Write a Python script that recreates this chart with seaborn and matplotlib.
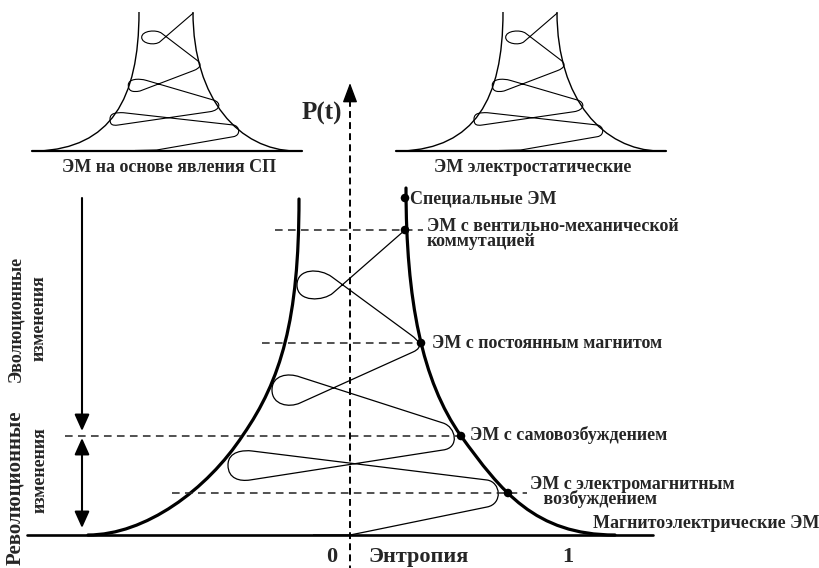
import matplotlib
matplotlib.use("Agg")
import matplotlib.pyplot as plt
from matplotlib.path import Path
from matplotlib.patches import PathPatch, FancyArrowPatch
import seaborn as sns

# all coordinates are pixels of the 820x568 picture, y grows downwards

# main funnel edges (cubic bezier: start, ctrl, ctrl, end, ctrl, ctrl, end)
left_edge = [(299, 199), (299, 320), (281, 380), (243, 435), (207, 490), (145, 535), (88, 535)]
right_edge = [(406, 188), (406, 300), (422, 381), (461, 436), (501, 491), (535, 535), (615, 535)]

# zig-zag evolution track inside the main funnel
main_track = [
    ("M", (405, 230)),
    ("L", (333, 293)),
    ("C", (324, 301), (297, 303), (297, 285)),
    ("C", (297, 268), (320, 268), (332, 277)),
    ("L", (411, 335)),
    ("C", (419, 341), (424, 347), (413, 352)),
    ("L", (300, 403)),
    ("C", (289, 408), (272, 405), (272, 390)),
    ("C", (272, 375), (288, 372.5), (300, 377)),
    ("L", (443, 423)),
    ("C", (456, 427), (460, 448), (443, 450)),
    ("L", (250, 480)),
    ("C", (240, 481.5), (228, 479), (228, 465)),
    ("C", (228, 451), (244, 450), (252, 451)),
    ("L", (487, 480)),
    ("C", (501, 482), (503, 504), (487, 507)),
    ("L", (365, 532)),
    ("L", (350, 535)),
    ("L", (313, 535)),
]

# small funnels at the top (left copy, the right one is shifted)
mini_left_edge = [(139, 12), (139, 100), (110, 148), (38, 151)]
mini_right_edge = [(193, 12), (193, 100), (240, 150), (295, 151)]
mini_track = [
    ("M", (193.3, 13)),
    ("L", (160, 41.7)),
    ("C", (155.4, 45.7), (141.7, 44), (141.7, 37.3)),
    ("C", (141.7, 30.5), (156.5, 29.3), (161.7, 33.3)),
    ("L", (196.7, 60)),
    ("C", (202, 64), (201.1, 67.7), (193.3, 70.7)),
    ("L", (140, 91)),
    ("C", (132.2, 92.5), (128.3, 91), (128.3, 85)),
    ("C", (128.3, 79), (138.2, 78), (146.7, 80.5)),
    ("L", (213.3, 100)),
    ("C", (221.8, 102.5), (220.4, 110.2), (210, 111.7)),
    ("L", (118.3, 125)),
    ("C", (111.5, 126), (110, 124), (110, 119)),
    ("C", (110, 113), (116, 112.5), (123.3, 112.7)),
    ("L", (233.3, 125)),
    ("C", (240, 126), (241, 135.5), (233.3, 136.7)),
    ("L", (156.7, 150)),
    ("L", (135, 150.5)),
]
mini_base = [(32, 151), (302, 151)]
mini_shift = [0, 364]
mini_titles = ["ЭМ на основе явления СП", "ЭМ электростатические"]
mini_title_x = [169, 533]
mini_title_y = 167

# levels (dashed lines + dots on the right edge)
level_y = [230, 343, 436, 493]
level_x0 = [275, 262, 65, 172]
level_x1 = [423, 421, 461, 527]
dot_x = [405, 405, 421, 461, 508]
dot_y = [198, 230, 343, 436, 493]

labels = ["Специальные ЭМ", "ЭМ с вентильно-механической\nкоммутацией",
          "ЭМ с постоянным магнитом", "ЭМ с самовозбуждением",
          "ЭМ с электромагнитным\n   возбуждением", "Магнитоэлектрические ЭМ"]
label_x = [410, 427, 432, 470, 530, 593]
label_y = [199, 234, 344, 435, 492, 523]

base_line = [(27, 535), (653, 535)]

sns.set_theme(style="white")
plt.rcParams["font.family"] = ["Liberation Serif", "DejaVu Serif"]

fig = plt.figure(figsize=(8.2, 5.68), dpi=100)
ax = fig.add_axes([0, 0, 1, 1])


def bezier(points, dx=0):
    pts = [(x + dx, y) for x, y in points]
    return Path(pts, [Path.MOVETO] + [Path.CURVE4] * (len(pts) - 1))


def track_path(track, dx=0):
    verts, codes = [], []
    kinds = {"M": Path.MOVETO, "L": Path.LINETO, "C": Path.CURVE4}
    for kind, *pts in track:
        for x, y in pts:
            verts.append((x + dx, y))
            codes.append(kinds[kind])
    return Path(verts, codes)


# main funnel
for edge in (left_edge, right_edge):
    ax.add_patch(PathPatch(bezier(edge), fill=False, lw=2.3, color="black", capstyle="round"))
ax.add_patch(PathPatch(track_path(main_track), fill=False, lw=0.9, color="black"))
sns.lineplot(x=[p[0] for p in base_line], y=[p[1] for p in base_line], color="black",
             lw=1.9, sort=False, estimator=None, ax=ax)

# small funnels
for dx, title, tx in zip(mini_shift, mini_titles, mini_title_x):
    ax.add_patch(PathPatch(bezier(mini_left_edge, dx), fill=False, lw=1.0, color="black"))
    ax.add_patch(PathPatch(bezier(mini_right_edge, dx), fill=False, lw=1.0, color="black"))
    ax.add_patch(PathPatch(track_path(mini_track, dx), fill=False, lw=0.8, color="black"))
    sns.lineplot(x=[p[0] + dx for p in mini_base], y=[p[1] for p in mini_base], color="black",
                 lw=1.6, sort=False, estimator=None, ax=ax)
    ax.text(tx, mini_title_y, title, ha="center", va="center", fontsize=13, fontweight="bold")

# dashed levels
for y, x0, x1 in zip(level_y, level_x0, level_x1):
    sns.lineplot(x=[x0, x1], y=[y, y], color="#222222", lw=1.1, linestyle=(0, (5, 3.5)),
                 sort=False, estimator=None, ax=ax)
sns.scatterplot(x=dot_x, y=dot_y, color="black", s=38, edgecolor="none", ax=ax, zorder=5)

for txt, x, y in zip(labels, label_x, label_y):
    ax.text(x, y, txt, ha="left", va="center", fontsize=13, fontweight="bold",
            linespacing=0.8, multialignment="left")

# vertical P(t) axis
ax.plot([350, 350], [100, 568], color="black", lw=1.4, linestyle=(0, (3.5, 2.2)))
ax.add_patch(FancyArrowPatch((350, 101), (350, 83), arrowstyle="-|>,head_length=12,head_width=4.5",
                             mutation_scale=1, color="black", lw=1.0, shrinkA=0, shrinkB=0))
ax.text(322, 113, "P(t)", ha="center", va="center", fontsize=18, fontweight="bold")
ax.text(332, 557, "0", ha="center", va="center", fontsize=16, fontweight="bold")
ax.text(419, 557, "Энтропия", ha="center", va="center", fontsize=16, fontweight="bold")
ax.text(568, 557, "1", ha="center", va="center", fontsize=16, fontweight="bold")

# evolution / revolution arrows
ax.add_patch(FancyArrowPatch((82, 198), (82, 431), arrowstyle="-|>,head_length=10,head_width=4.5",
                             mutation_scale=1, color="black", lw=1.5, shrinkA=0, shrinkB=0))
ax.add_patch(FancyArrowPatch((82, 438), (82, 528), arrowstyle="<|-|>,head_length=10,head_width=4.5",
                             mutation_scale=1, color="black", lw=1.5, shrinkA=0, shrinkB=0))
ax.text(16, 319, "Эволюционные", rotation=90, ha="center", va="center", fontsize=13, fontweight="bold")
ax.text(39, 318, "изменения", rotation=90, ha="center", va="center", fontsize=13, fontweight="bold")
ax.text(15, 488, "Революционные", rotation=90, ha="center", va="center", fontsize=15, fontweight="bold")
ax.text(40, 470, "изменения", rotation=90, ha="center", va="center", fontsize=13, fontweight="bold")

ax.set_xlim(0, 820)
ax.set_ylim(568, 0)
ax.axis("off")
fig.savefig("out.png", dpi=100)
